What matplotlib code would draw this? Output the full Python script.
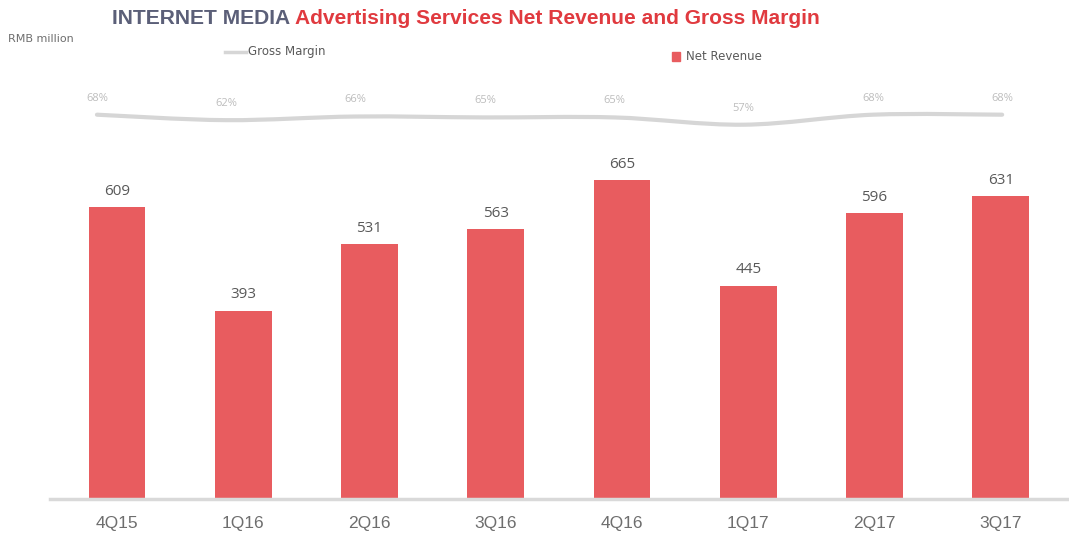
import numpy as np
import matplotlib.pyplot as plt
from matplotlib.path import Path
from matplotlib.patches import PathPatch

quarters = ["4Q15", "1Q16", "2Q16", "3Q16", "4Q16", "1Q17", "2Q17", "3Q17"]
net_revenue = [609, 393, 531, 563, 665, 445, 596, 631]
gross_margin = [68, 62, 66, 65, 65, 57, 68, 68]

BAR_COLOR = "#e85c5f"
LINE_COLOR = "#d6d6d6"
TEXT_GREY = "#6e6e6e"

W, H = 1069, 553
fig = plt.figure(figsize=(W / 100, H / 100), dpi=100)

# axes: baseline at y=499px, top at y=30px, left 50px to right edge
rect = [50 / W, (H - 499) / H, (W - 50) / W, (499 - 30) / H]
ax = fig.add_axes(rect)
x = np.arange(len(quarters))
ax.bar(x, net_revenue, width=0.45, color=BAR_COLOR, zorder=2)
ax.set_xlim(-0.53, 7.54)
ax.set_ylim(0, 978)
for s in ["top", "right", "left"]:
    ax.spines[s].set_visible(False)
ax.spines["bottom"].set_color("#d9d9d9")
ax.spines["bottom"].set_linewidth(2.5)
ax.set_yticks([])
ax.set_xticks(x)
ax.set_xticklabels(quarters, fontsize=12.5, color=TEXT_GREY, family="Liberation Sans")
ax.tick_params(axis="x", length=0, pad=12)

for xi, v in zip(x, net_revenue):
    ax.annotate(str(v), (xi, v), xytext=(0, 6), textcoords="offset points",
                ha="center", va="bottom", fontsize=11, color="#595959", family="Open Sans")

# gross margin on its own overlay axes (Excel placed it slightly differently)
ax2 = fig.add_axes(rect, facecolor="none")
ax2.set_xlim(-0.363, 7.517)
ax2.set_ylim(-354, 161)
ax2.set_axis_off()
pts = np.column_stack([x, gross_margin]).astype(float)
verts = [tuple(pts[0])]
codes = [Path.MOVETO]
for i in range(len(pts) - 1):
    p0 = pts[max(i - 1, 0)]
    p1 = pts[i]
    p2 = pts[i + 1]
    p3 = pts[min(i + 2, len(pts) - 1)]
    c1 = p1 + (p2 - p0) / 6
    c2 = p2 - (p3 - p1) / 6
    verts += [tuple(c1), tuple(c2), tuple(p2)]
    codes += [Path.CURVE4] * 3
ax2.add_patch(PathPatch(Path(verts, codes), facecolor="none", edgecolor=LINE_COLOR,
                        lw=3, capstyle="round"))
for xi, m in zip(x, gross_margin):
    ax2.annotate(f"{m}%", (xi, m), xytext=(0, 8), textcoords="offset points",
                 ha="center", va="bottom", fontsize=8, color="#bdbdbd", family="Open Sans")

# title in two colours, sized to span the same width as the original
part1 = "INTERNET MEDIA "
part2 = "Advertising Services Net Revenue and Gross Margin"
fs = 15
t1 = fig.text(112 / W, 1 - 19 / H, part1, fontsize=fs, fontweight="bold",
              color="#5b5f78", family="Liberation Sans", va="center")
t2 = fig.text(0, 1 - 19 / H, part2, fontsize=fs, fontweight="bold",
              color="#e03a3f", family="Liberation Sans", va="center")
fig.canvas.draw()
r = fig.canvas.get_renderer()
total = t1.get_window_extent(r).width + t2.get_window_extent(r).width
fs = fs * 710 / total
t1.set_fontsize(fs)
t2.set_fontsize(fs)
fig.canvas.draw()
t2.set_x(t1.get_window_extent(r).x1 / W)

fig.text(8 / W, 1 - 39 / H, "RMB million", fontsize=8, color=TEXT_GREY, va="center")

# legend drawn by hand
fig.add_artist(plt.Line2D([225 / W, 246 / W], [1 - 52 / H, 1 - 52 / H],
                          color=LINE_COLOR, lw=2.5))
fig.text(248 / W, 1 - 52 / H, "Gross Margin", fontsize=8.5, color="#595959", va="center")
fig.add_artist(plt.Rectangle((672 / W, 1 - 61 / H), 8 / W, 9 / H, color=BAR_COLOR))
fig.text(686 / W, 1 - 56 / H, "Net Revenue", fontsize=8.5, color="#595959", va="center")

fig.savefig("out.png", dpi=100)
